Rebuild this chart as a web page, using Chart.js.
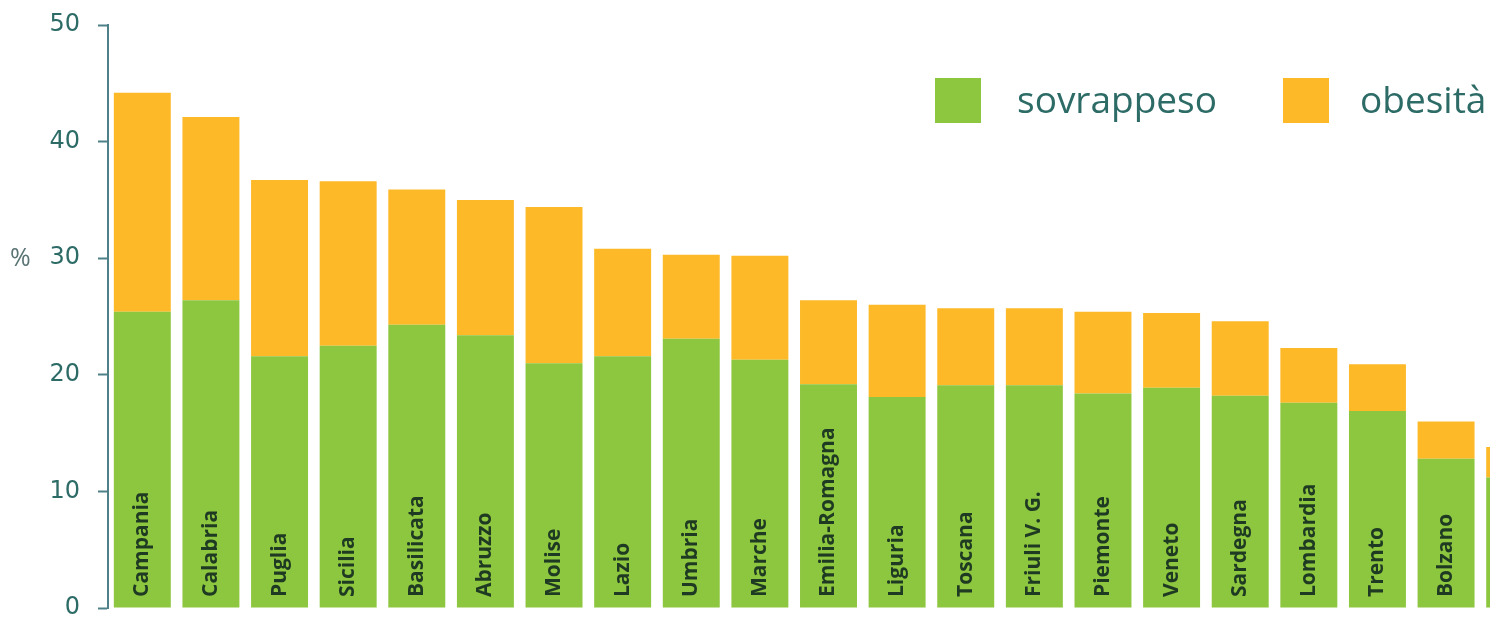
<!DOCTYPE html>
<html>
<head>
<meta charset="utf-8">
<script src="https://cdn.jsdelivr.net/npm/chart.js@4/dist/chart.umd.min.js"></script>
<style>
  html, body { margin: 0; padding: 0; background: #fff; overflow: hidden; }
  #wrap { width: 1560px; height: 618px; }
</style>
</head>
<body>
<div id="wrap"><canvas id="chartObesita" width="1560" height="618"></canvas></div>
<script>
// regioni (ordinate per totale)
const regioni = [
  "Campania", "Calabria", "Puglia", "Sicilia", "Basilicata", "Abruzzo", "Molise",
  "Lazio", "Umbria", "Marche", "Emilia-Romagna", "Liguria", "Toscana", "Friuli V. G.",
  "Piemonte", "Veneto", "Sardegna", "Lombardia", "Trento", "Bolzano", "Valle d'Aosta"
];

// % sovrappeso (parte verde)
const sovrappeso = [
  25.4, 26.4, 21.6, 22.5, 24.3, 23.4, 21.0, 21.6, 23.1, 21.3,
  19.2, 18.1, 19.1, 19.1, 18.4, 18.9, 18.2, 17.6, 16.9, 12.8, 11.2
];

// % obesità (parte arancione, sopra il sovrappeso)
const obesita = [
  18.8, 15.7, 15.1, 14.1, 11.6, 11.6, 13.4, 9.2, 7.2, 8.9,
  7.2, 7.9, 6.6, 6.6, 7.0, 6.4, 6.4, 4.7, 4.0, 3.2, 2.6
];

const yTicks = [0, 10, 20, 30, 40, 50];

const VERDE = "#8dc63f";
const ARANCIO = "#fdb927";
const TEAL = "#2d6b66";
const ASSE = "#4d8088";

// nomi delle regioni scritti in verticale dentro le barre
const etichetteBarre = {
  id: "etichetteBarre",
  afterDatasetsDraw(chart) {
    const { ctx, scales: { x, y } } = chart;
    ctx.save();
    ctx.font = "bold 21px 'Open Sans'";
    ctx.fillStyle = "#1f3a22";
    ctx.textAlign = "left";
    ctx.textBaseline = "middle";
    chart.data.labels.forEach((lab, i) => {
      ctx.save();
      ctx.translate(x.getPixelForValue(i), y.bottom - 11);
      ctx.rotate(-Math.PI / 2);
      ctx.fillText(lab, 0, 0);
      ctx.restore();
    });
    ctx.restore();
  }
};

// legenda e simbolo % disegnati a mano
const legendaManuale = {
  id: "legendaManuale",
  afterDraw(chart) {
    const { ctx } = chart;
    const voci = chart.data.datasets;
    const boxX = [935, 1283];
    const testoX = [1017, 1360];
    ctx.save();
    ctx.font = "37px 'Open Sans'";
    ctx.textBaseline = "alphabetic";
    ctx.textAlign = "left";
    voci.forEach((ds, i) => {
      ctx.fillStyle = ds.backgroundColor;
      ctx.fillRect(boxX[i], 78, 46, 45);
      ctx.fillStyle = TEAL;
      ctx.fillText(ds.label, testoX[i], 113);
    });
    // unità sull'asse y
    ctx.font = "25px 'Open Sans'";
    ctx.fillStyle = "#5a7474";
    ctx.textBaseline = "middle";
    ctx.fillText("%", 10, 259);
    ctx.restore();
  }
};

new Chart(document.getElementById("chartObesita"), {
  type: "bar",
  data: {
    labels: regioni,
    datasets: [
      { label: "sovrappeso", data: sovrappeso, backgroundColor: VERDE },
      { label: "obesità", data: obesita, backgroundColor: ARANCIO }
    ]
  },
  options: {
    responsive: false,
    animation: false,
    layout: { padding: { left: 0, right: 11, top: 25, bottom: 10 } },
    plugins: {
      legend: { display: false },
      tooltip: { enabled: false }
    },
    datasets: {
      bar: { barPercentage: 0.83, categoryPercentage: 1, borderWidth: 0 }
    },
    scales: {
      x: {
        stacked: true,
        display: false
      },
      y: {
        stacked: true,
        min: 0,
        max: 50,
        afterFit: s => {
          s.width = 108;
          s.paddingTop = 0;
          s.paddingBottom = 0;
        },
        afterBuildTicks: s => { s.ticks = yTicks.map(v => ({ value: v })); },
        border: { display: true, color: ASSE, width: 2 },
        grid: {
          drawOnChartArea: false,
          drawTicks: true,
          tickLength: 10,
          tickColor: ASSE,
          tickWidth: 2
        },
        ticks: {
          padding: 18,
          color: TEAL,
          font: { family: "'DejaVu Sans'", size: 24 }
        }
      }
    }
  },
  plugins: [etichetteBarre, legendaManuale]
});
</script>
</body>
</html>
